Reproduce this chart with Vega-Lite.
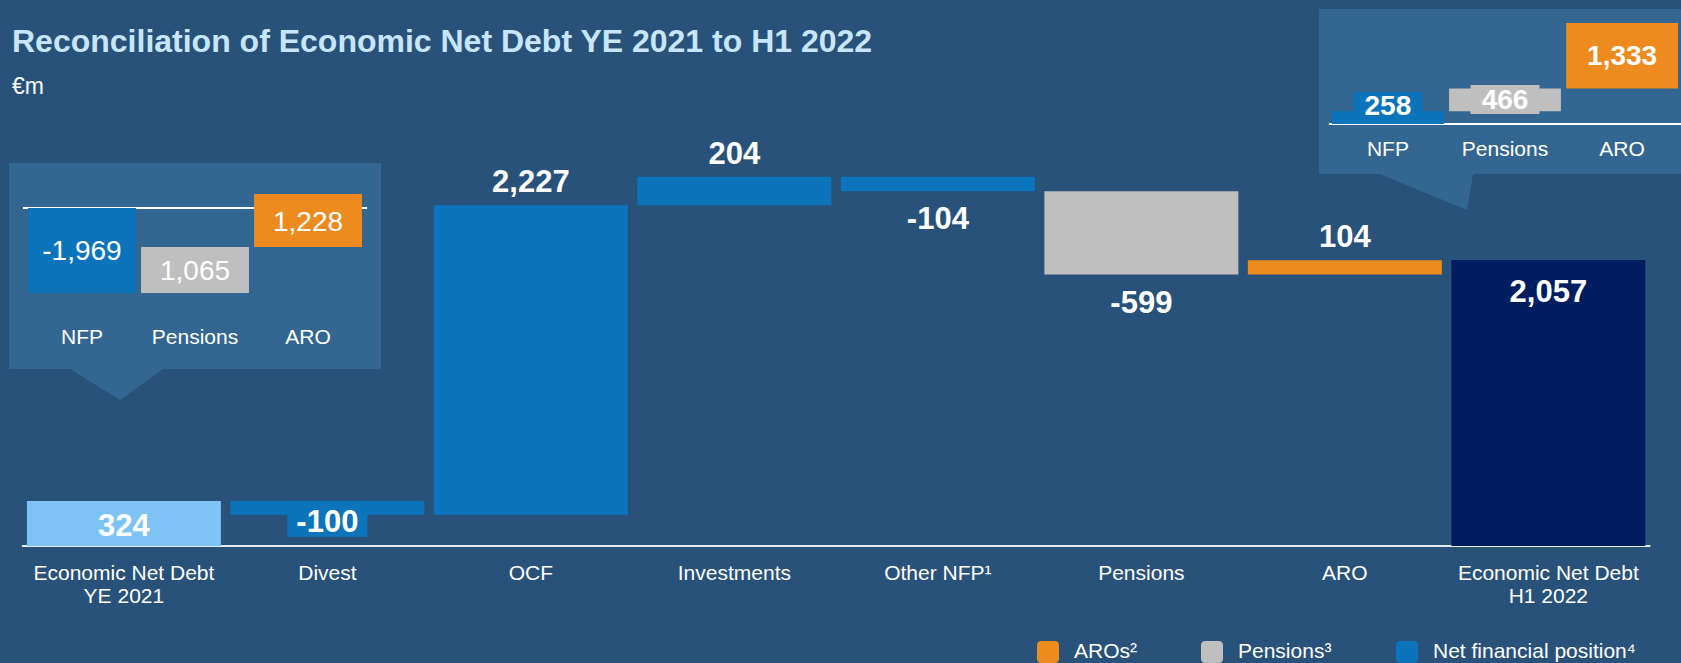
{
  "$schema": "https://vega.github.io/schema/vega-lite/v6.json",
  "width": 1681,
  "height": 446,
  "autosize": {"type": "none"},
  "padding": {"left": 0, "right": 0, "top": 100, "bottom": 117},
  "background": "#29527a",
  "title": {
    "text": "Reconciliation of Economic Net Debt YE 2021 to H1 2022",
    "subtitle": "€m",
    "anchor": "start",
    "frame": "group",
    "orient": "top",
    "offset": -91,
    "dx": 12,
    "font": "Liberation Sans",
    "fontSize": 32,
    "fontWeight": "bold",
    "color": "#c8e6fb",
    "subtitleFont": "Liberation Sans",
    "subtitleFontSize": 23,
    "subtitleColor": "white",
    "subtitlePadding": 17
  },
  "config": {"view": {"stroke": null}, "font": "Liberation Sans"},
  "datasets": {
    "main": [
      {"cat": "Economic Net Debt YE 2021", "start": 0, "end": 324, "type": "start", "kind": "first", "label": "324"},
      {"cat": "Divest", "start": 324, "end": 224, "type": "NFP", "kind": "down", "label": "-100"},
      {"cat": "OCF", "start": 224, "end": 2451, "type": "NFP", "kind": "up", "label": "2,227"},
      {"cat": "Investments", "start": 2451, "end": 2655, "type": "NFP", "kind": "up", "label": "204"},
      {"cat": "Other NFP¹", "start": 2655, "end": 2551, "type": "NFP", "kind": "down", "label": "-104"},
      {"cat": "Pensions", "start": 2551, "end": 1952, "type": "Pensions", "kind": "down", "label": "-599"},
      {"cat": "ARO", "start": 1952, "end": 2056, "type": "ARO", "kind": "up", "label": "104"},
      {"cat": "Economic Net Debt H1 2022", "start": 0, "end": 2057, "type": "end", "kind": "last", "label": "2,057"}
    ],
    "left": [
      {"cat": "NFP", "type": "NFP", "start": 0, "end": -1969, "label": "-1,969"},
      {"cat": "Pensions", "type": "Pensions", "start": -1969, "end": -904, "label": "1,065"},
      {"cat": "ARO", "type": "ARO", "start": -904, "end": 324, "label": "1,228"}
    ],
    "right": [
      {"cat": "NFP", "type": "NFP", "start": 0, "end": 258, "label": "258"},
      {"cat": "Pensions", "type": "Pensions", "start": 258, "end": 724, "label": "466"},
      {"cat": "ARO", "type": "ARO", "start": 724, "end": 2057, "label": "1,333"}
    ]
  },
  "resolve": {"scale": {"x": "independent", "y": "independent"}, "axis": {"x": "independent", "y": "independent"}},
  "layer": [
    {
      "data": {"name": "left"},
      "layer": [
        {
          "transform": [{"filter": "datum.cat == 'Pensions'"}],
          "mark": {"type": "point", "shape": "M-0.93,-0.225H0.93V0.805H-0.16L-0.375,0.96L-0.625,0.805H-0.93Z", "size": 160000, "filled": true, "color": "#336791", "opacity": 1, "strokeWidth": 0},
          "encoding": {
            "x": {"field": "cat", "type": "nominal", "sort": null, "scale": {"type": "band", "domain": ["NFP", "Pensions", "ARO"], "range": [28, 362], "paddingInner": 0.045, "paddingOuter": 0}, "axis": null},
            "y": {"datum": 0, "type": "quantitative", "scale": {"domain": [-1969, 324], "range": [193, 94], "nice": false, "zero": false}, "axis": null}
          }
        },
        {
          "mark": {"type": "tick", "size": 118, "thickness": 2, "color": "white", "opacity": 1},
          "encoding": {
            "x": {"field": "cat", "type": "nominal", "sort": null, "axis": null},
            "y": {"datum": 0, "type": "quantitative", "axis": null}
          }
        },
        {
          "mark": {"type": "bar"},
          "encoding": {
            "x": {"field": "cat", "type": "nominal", "sort": null, "axis": null},
            "y": {"field": "start", "type": "quantitative", "axis": null},
            "y2": {"field": "end"},
            "color": {"field": "type", "type": "nominal"}
          }
        },
        {
          "transform": [
            {"fold": ["start", "end"], "as": ["k", "v"]},
            {"aggregate": [{"op": "mean", "field": "v", "as": "mid"}], "groupby": ["cat", "label"]}
          ],
          "mark": {"type": "text", "fontSize": 28, "color": "white", "baseline": "middle", "align": "center", "dy": 2},
          "encoding": {
            "x": {"field": "cat", "type": "nominal", "sort": null, "axis": null},
            "y": {"field": "mid", "type": "quantitative", "axis": null},
            "text": {"field": "label"}
          }
        },
        {
          "mark": {"type": "text", "fontSize": 21, "color": "white", "baseline": "alphabetic", "align": "center", "dy": 136},
          "encoding": {
            "x": {"field": "cat", "type": "nominal", "sort": null, "axis": null},
            "y": {"datum": 0, "type": "quantitative", "axis": null},
            "text": {"field": "cat"}
          }
        }
      ]
    },
    {
      "data": {"name": "right"},
      "layer": [
        {
          "transform": [{"filter": "datum.cat == 'Pensions'"}],
          "mark": {"type": "point", "shape": "M-0.93,-0.575H0.975V0.25H-0.16L-0.19,0.43L-0.625,0.25H-0.93Z", "size": 160000, "filled": true, "color": "#336791", "opacity": 1, "strokeWidth": 0},
          "encoding": {
            "x": {"field": "cat", "type": "nominal", "sort": null, "scale": {"type": "band", "domain": ["NFP", "Pensions", "ARO"], "range": [1332, 1678], "paddingInner": 0.045, "paddingOuter": 0}, "axis": null},
            "y": {"datum": 0, "type": "quantitative", "scale": {"domain": [0, 2057], "range": [24, -77], "nice": false, "zero": false}, "axis": null}
          }
        },
        {
          "mark": {"type": "tick", "size": 118, "thickness": 2, "color": "white", "opacity": 1},
          "encoding": {
            "x": {"field": "cat", "type": "nominal", "sort": null, "axis": null},
            "y": {"datum": 0, "type": "quantitative", "axis": null}
          }
        },
        {
          "mark": {"type": "bar"},
          "encoding": {
            "x": {"field": "cat", "type": "nominal", "sort": null, "axis": null},
            "y": {"field": "start", "type": "quantitative", "axis": null},
            "y2": {"field": "end"},
            "color": {"field": "type", "type": "nominal"}
          }
        },
        {
          "transform": [
            {"fold": ["start", "end"], "as": ["k", "v"]},
            {"aggregate": [{"op": "mean", "field": "v", "as": "mid"}], "groupby": ["cat", "label"]}
          ],
          "layer": [
            {
              "transform": [{"filter": "datum.cat == 'NFP'"}],
              "mark": {"type": "point", "shape": "M-1,-0.745H1V0.183H-1Z", "size": 4761, "filled": true, "color": "#0b74bb", "opacity": 1, "strokeWidth": 0},
              "encoding": {
                "x": {"field": "cat", "type": "nominal", "sort": null, "axis": null},
                "y": {"field": "mid", "type": "quantitative", "axis": null}
              }
            },
            {
              "transform": [{"filter": "datum.cat == 'Pensions'"}],
              "mark": {"type": "point", "shape": "M-1,-0.432H1V0.409H-1Z", "size": 4761, "filled": true, "color": "#bfbfbf", "opacity": 1, "strokeWidth": 0},
              "encoding": {
                "x": {"field": "cat", "type": "nominal", "sort": null, "axis": null},
                "y": {"field": "mid", "type": "quantitative", "axis": null}
              }
            },
            {
              "transform": [{"filter": "datum.cat == 'NFP'"}],
              "mark": {"type": "text", "fontSize": 28, "fontWeight": "bold", "color": "white", "baseline": "middle", "align": "center", "dy": -11},
              "encoding": {
                "x": {"field": "cat", "type": "nominal", "sort": null, "axis": null},
                "y": {"field": "mid", "type": "quantitative", "axis": null},
                "text": {"field": "label"}
              }
            },
            {
              "transform": [{"filter": "datum.cat != 'NFP'"}],
              "mark": {"type": "text", "fontSize": 28, "fontWeight": "bold", "color": "white", "baseline": "middle", "align": "center", "dy": 1},
              "encoding": {
                "x": {"field": "cat", "type": "nominal", "sort": null, "axis": null},
                "y": {"field": "mid", "type": "quantitative", "axis": null},
                "text": {"field": "label"}
              }
            }
          ]
        },
        {
          "mark": {"type": "text", "fontSize": 21, "color": "white", "baseline": "alphabetic", "align": "center", "dy": 32},
          "encoding": {
            "x": {"field": "cat", "type": "nominal", "sort": null, "axis": null},
            "y": {"datum": 0, "type": "quantitative", "axis": null},
            "text": {"field": "cat"}
          }
        }
      ]
    },
    {
      "data": {"name": "main"},
      "layer": [
        {
          "mark": {"type": "tick", "size": 204, "thickness": 2, "color": "#e4eaf0", "opacity": 1},
          "encoding": {
            "x": {"field": "cat", "type": "nominal", "sort": null, "title": null,
              "scale": {"type": "band", "domain": ["Economic Net Debt YE 2021", "Divest", "OCF", "Investments", "Other NFP¹", "Pensions", "ARO", "Economic Net Debt H1 2022"], "paddingInner": 0.0467, "paddingOuter": 0.1537, "align": 0.43},
              "axis": {"domain": false, "ticks": false, "tickSize": 0, "grid": false, "labelPadding": 16, "labelBaseline": "top", "labelFontSize": 21, "labelColor": "white", "labelFont": "Liberation Sans", "labelLineHeight": 23.4, "labelAngle": 0, "labelLimit": 400, "labelOverlap": false, "labelFlush": false,
                "labelExpr": "datum.value == 'Economic Net Debt YE 2021' ? ['Economic Net Debt', 'YE 2021'] : datum.value == 'Economic Net Debt H1 2022' ? ['Economic Net Debt', 'H1 2022'] : datum.label"}},
            "y": {"datum": 0, "type": "quantitative", "scale": {"domain": [0, 3207.7], "nice": false, "zero": false}, "axis": null}
          }
        },
        {
          "mark": {"type": "bar"},
          "encoding": {
            "x": {"field": "cat", "type": "nominal", "sort": null, "title": null},
            "y": {"field": "start", "type": "quantitative", "axis": null},
            "y2": {"field": "end"},
            "color": {
              "field": "type", "type": "nominal",
              "scale": {"domain": ["start", "NFP", "Pensions", "ARO", "end"], "range": ["#7dc3f4", "#0b74bb", "#bfbfbf", "#ee8b1e", "#001e5f"]},
              "legend": {
                "title": null, "orient": "none", "legendX": 1037, "legendY": 541, "direction": "horizontal", "columns": 3,
                "values": ["ARO", "Pensions", "NFP"],
                "labelExpr": "datum.value == 'ARO' ? 'AROs²' : datum.value == 'Pensions' ? 'Pensions³' : 'Net financial position⁴'",
                "symbolType": "M-1,-0.6Q-1,-1,-0.6,-1L0.6,-1Q1,-1,1,-0.6L1,0.6Q1,1,0.6,1L-0.6,1Q-1,1,-1,0.6Z",
                "symbolSize": 484, "symbolStrokeWidth": 0, "symbolOpacity": 1,
                "labelFontSize": 21, "labelColor": "white", "labelFont": "Liberation Sans", "labelOffset": 15, "labelLimit": 400,
                "columnPadding": 64, "gridAlign": "none", "padding": 0
              }
            }
          }
        },
        {
          "transform": [{"filter": "datum.cat == 'Divest'"}],
          "mark": {"type": "point", "shape": "M-1,-0.35H1V0.55H-1Z", "size": 6400, "filled": true, "color": "#0b74bb", "opacity": 1, "strokeWidth": 0},
          "encoding": {
            "x": {"field": "cat", "type": "nominal", "sort": null, "title": null},
            "y": {"field": "end", "type": "quantitative", "axis": null}
          }
        },
        {
          "transform": [{"filter": "datum.kind == 'up'"}],
          "mark": {"type": "text", "fontSize": 31, "fontWeight": "bold", "color": "white", "baseline": "alphabetic", "align": "center", "dy": -13},
          "encoding": {
            "x": {"field": "cat", "type": "nominal", "sort": null, "title": null},
            "y": {"field": "end", "type": "quantitative", "axis": null},
            "text": {"field": "label"}
          }
        },
        {
          "transform": [{"filter": "datum.kind == 'down' && datum.cat != 'Divest'"}],
          "mark": {"type": "text", "fontSize": 31, "fontWeight": "bold", "color": "white", "baseline": "alphabetic", "align": "center", "dy": 38},
          "encoding": {
            "x": {"field": "cat", "type": "nominal", "sort": null, "title": null},
            "y": {"field": "end", "type": "quantitative", "axis": null},
            "text": {"field": "label"}
          }
        },
        {
          "transform": [{"filter": "datum.cat == 'Divest'"}],
          "mark": {"type": "text", "fontSize": 31, "fontWeight": "bold", "color": "white", "baseline": "alphabetic", "align": "center", "dy": 17},
          "encoding": {
            "x": {"field": "cat", "type": "nominal", "sort": null, "title": null},
            "y": {"field": "end", "type": "quantitative", "axis": null},
            "text": {"field": "label"}
          }
        },
        {
          "transform": [{"filter": "datum.kind == 'first'"}],
          "mark": {"type": "text", "fontSize": 31, "fontWeight": "bold", "color": "white", "baseline": "alphabetic", "align": "center", "dy": 35},
          "encoding": {
            "x": {"field": "cat", "type": "nominal", "sort": null, "title": null},
            "y": {"field": "end", "type": "quantitative", "axis": null},
            "text": {"field": "label"}
          }
        },
        {
          "transform": [{"filter": "datum.kind == 'last'"}],
          "mark": {"type": "text", "fontSize": 31, "fontWeight": "bold", "color": "white", "baseline": "alphabetic", "align": "center", "dy": 42},
          "encoding": {
            "x": {"field": "cat", "type": "nominal", "sort": null, "title": null},
            "y": {"field": "end", "type": "quantitative", "axis": null},
            "text": {"field": "label"}
          }
        }
      ]
    }
  ]
}
